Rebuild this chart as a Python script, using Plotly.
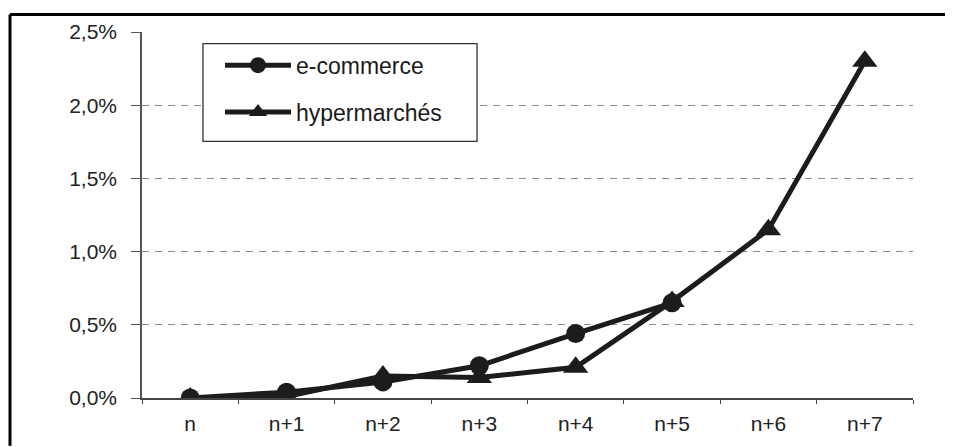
import plotly.graph_objects as go

categories = ["n", "n+1", "n+2", "n+3", "n+4", "n+5", "n+6", "n+7"]
ecommerce = [0.0, 0.04, 0.11, 0.22, 0.44, 0.65]
hypermarches = [0.0, 0.01, 0.15, 0.14, 0.21, 0.66, 1.15, 2.30]
y_ticks = [0.0, 0.5, 1.0, 1.5, 2.0, 2.5]
y_tick_labels = ["0,0%", "0,5%", "1,0%", "1,5%", "2,0%", "2,5%"]

# page offset from default body margin
OFF = 8
W, H = 953 - OFF, 447 - OFF
L, T = 142 - OFF, 28 - OFF
R = W - (913 - OFF)
B = H - (403 - OFF)
pw, ph = W - L - R, H - T - B


def px_x(x):
    return (x - OFF - L) / pw


def px_y(y):
    return (H - B - (y - OFF)) / ph


INK = "#1c1c1c"
FONT = "Liberation Sans, Arial, sans-serif"

fig = go.Figure()
fig.add_trace(go.Scatter(
    x=categories, y=hypermarches, name="hypermarchés", mode="lines+markers",
    line=dict(color=INK, width=5),
    marker=dict(symbol="triangle-up", size=22, color=INK),
    legendrank=2, legendgroup="h",
))
fig.add_trace(go.Scatter(
    x=categories[:len(ecommerce)], y=ecommerce, name="e-commerce", mode="lines+markers",
    line=dict(color=INK, width=5),
    marker=dict(symbol="circle", size=19, color=INK),
    legendrank=1, legendgroup="e",
))

fig.update_layout(
    width=W, height=H,
    margin=dict(l=L, r=R, t=T, b=B, pad=0),
    paper_bgcolor="white", plot_bgcolor="white",
    font=dict(family=FONT, color="#222", size=21),
    showlegend=True,
    legend=dict(
        x=px_x(220), y=px_y(40), xanchor="left", yanchor="top",
        borderwidth=0, bgcolor="rgba(0,0,0,0)",
        font=dict(size=23, color="#1a1a1a", family=FONT),
        tracegroupgap=14, itemwidth=66,
    ),
    xaxis=dict(
        type="category", range=[-0.5, 7.5],
        tickson="boundaries", ticks="outside", ticklen=4, tickcolor="#444",
        showline=True, linecolor="#444", linewidth=1.5,
        showgrid=False, zeroline=False,
        ticklabelstandoff=6,
        tickfont=dict(size=21, color="#222"),
    ),
    yaxis=dict(
        range=[0, 2.5], tickvals=y_ticks, ticktext=y_tick_labels,
        ticks="outside", ticklen=9, tickcolor="#555",
        showline=True, linecolor="#555", linewidth=1.5,
        showgrid=True, gridcolor="#8a8a8a", gridwidth=1, griddash="7px,6px",
        zeroline=False,
        ticklabelstandoff=10,
        tickfont=dict(size=21, color="#222"),
    ),
    shapes=[
        # legend frame
        dict(type="rect", xref="paper", yref="paper", layer="above",
             x0=px_x(203), x1=px_x(477), y0=px_y(40), y1=px_y(140),
             fillcolor="white", line=dict(color="#333", width=1.3)),
        # outer page frame
        dict(type="line", xref="paper", yref="paper",
             x0=px_x(10), x1=px_x(953 + 5), y0=px_y(10), y1=px_y(10),
             line=dict(color="black", width=3)),
        dict(type="line", xref="paper", yref="paper",
             x0=px_x(10), x1=px_x(10), y0=px_y(10), y1=px_y(447 + 5),
             line=dict(color="black", width=3)),
    ],
)

fig.write_html("out.html")
